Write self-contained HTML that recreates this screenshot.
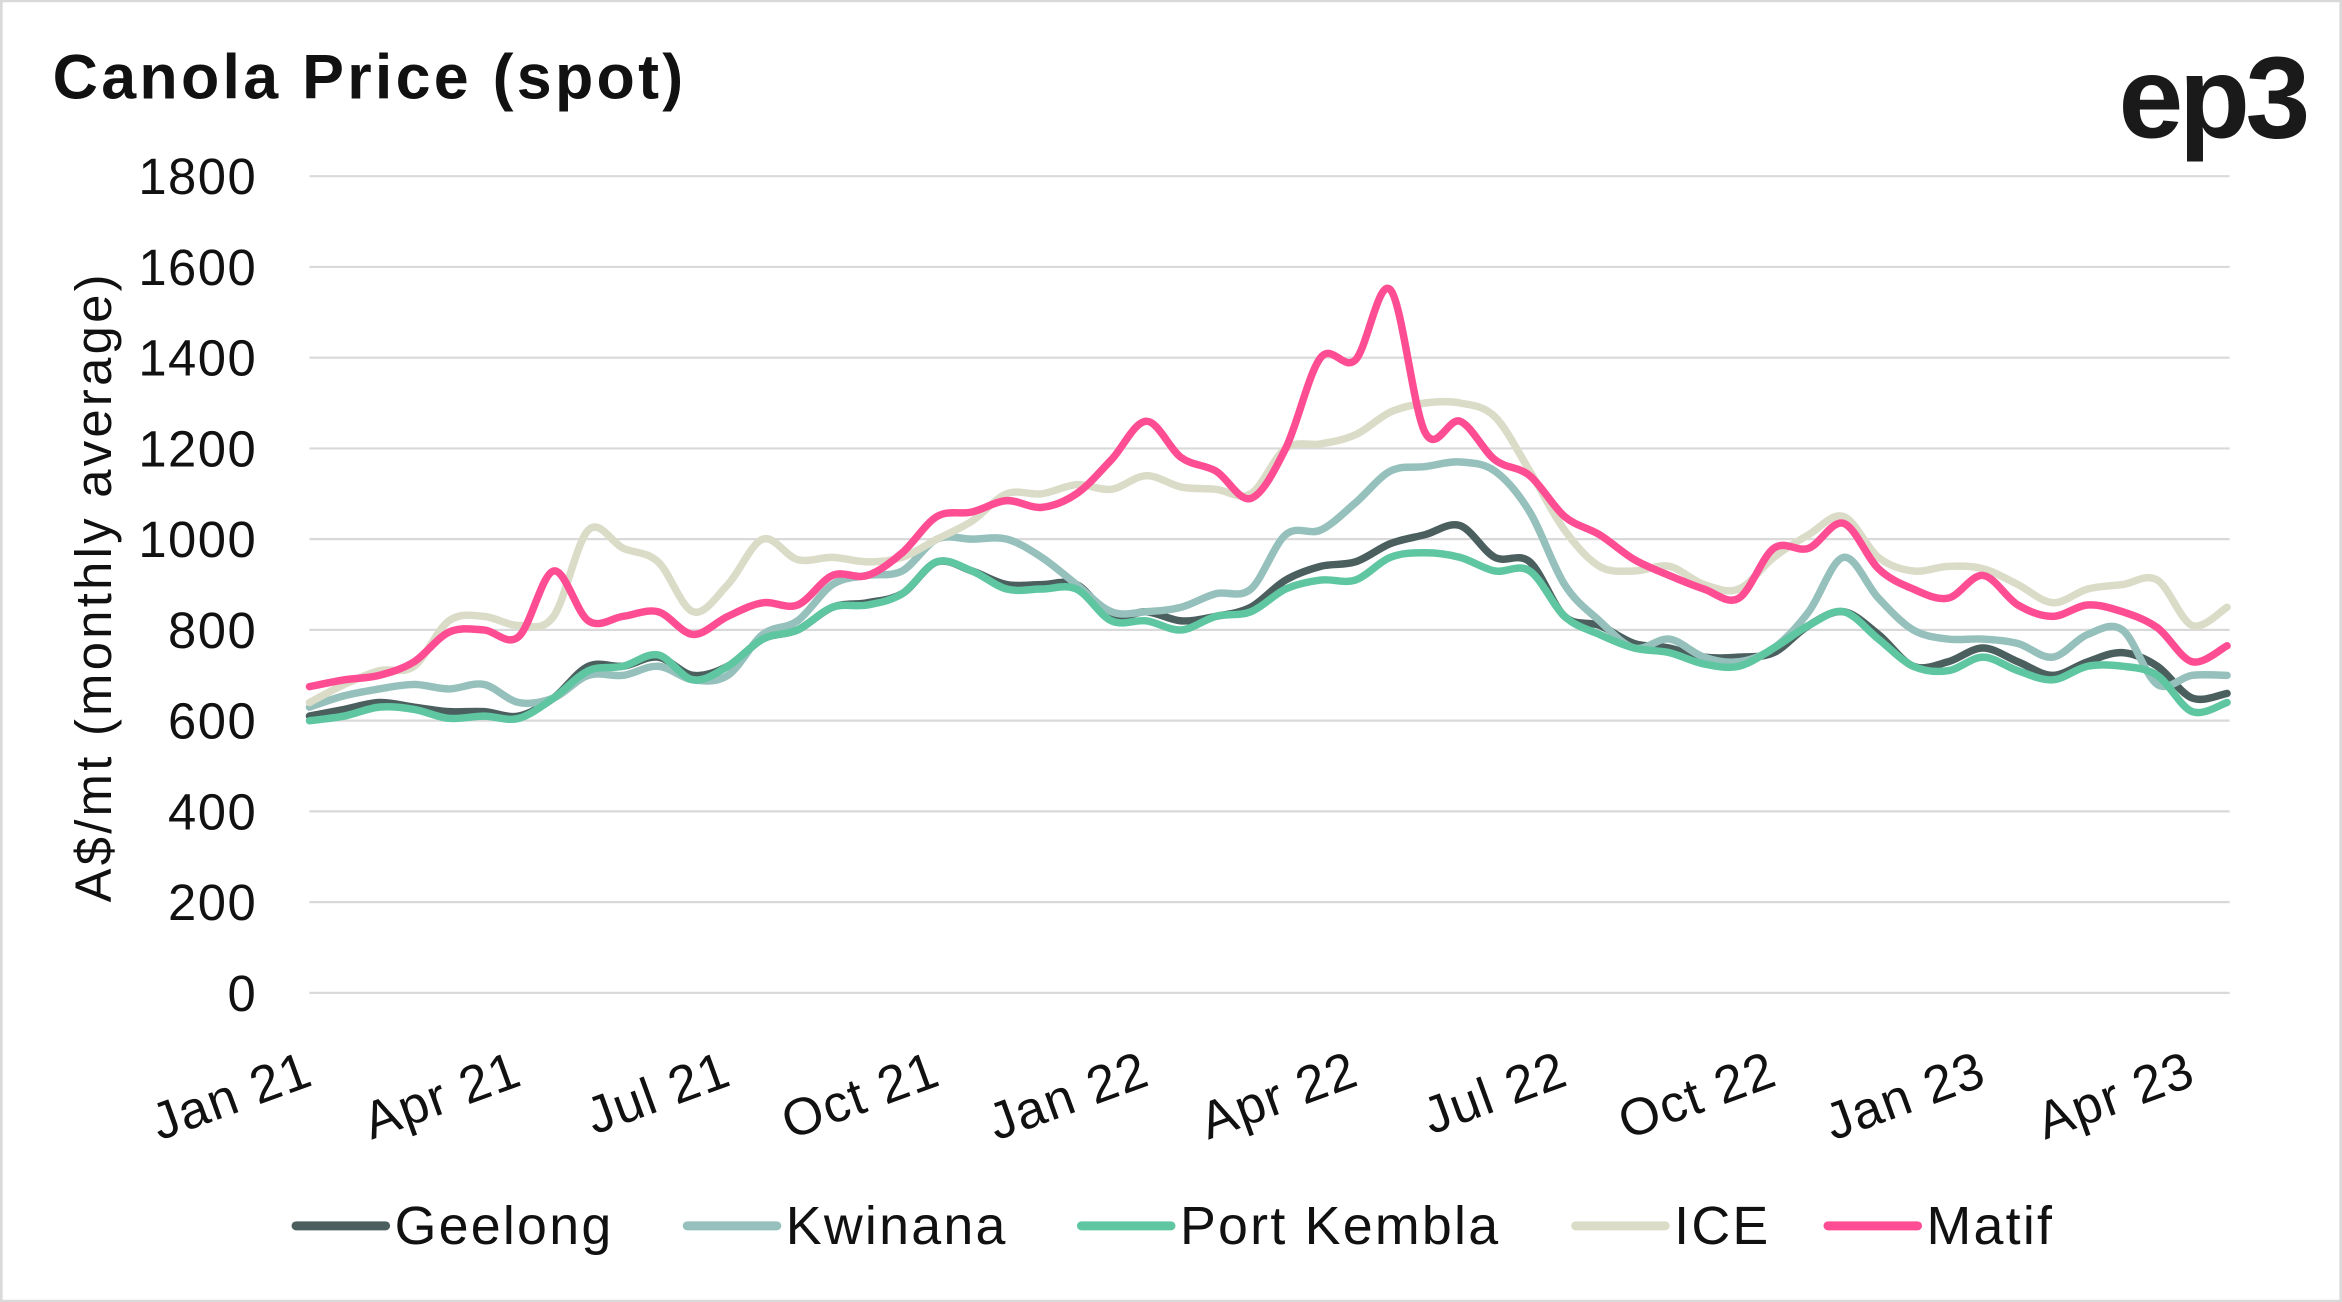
<!DOCTYPE html>
<html><head><meta charset="utf-8"><style>
html,body{margin:0;padding:0;background:#fff;}
svg{display:block;}
text{font-family:"Liberation Sans",sans-serif;}
</style></head><body>
<svg id="chart" width="2342" height="1302" viewBox="0 0 1568 872" xmlns="http://www.w3.org/2000/svg">
<rect x="0" y="0" width="1568" height="872" fill="#fff" stroke="#d9d9d9" stroke-width="3"/>
<text x="35" y="66" font-size="42" font-weight="bold" fill="#111" letter-spacing="2.2">Canola Price (spot)</text>
<text x="1544" y="92" font-size="78" font-weight="bold" fill="#1a1a1a" text-anchor="end" letter-spacing="-3">ep3</text>
<text transform="translate(74,393) rotate(-90)" font-size="34" fill="#111" text-anchor="middle" letter-spacing="2.2">A$/mt (monthly average)</text>
<g id="grid"></g>
<g id="yticks"></g>
<g id="xticks"></g>
<g id="series"></g>
<g id="legend"></g>
</svg>
<script>
const t = [];
for (let i = 0; i <= 55; i++) t.push(i * 0.5);
const geelong = [610,625,640,630,620,620,610,650,720,720,740,700,720,780,800,850,860,880,950,930,900,900,900,830,840,820,830,850,910,940,950,990,1010,1030,960,950,830,810,770,760,740,740,750,810,840,790,720,730,760,730,700,730,750,720,650,660];
const kwinana = [630,655,670,680,670,680,640,650,700,700,720,690,700,790,820,900,920,930,1000,1000,1000,960,900,840,840,850,880,890,1010,1020,1080,1150,1160,1170,1150,1060,900,820,760,780,740,730,760,840,960,870,800,780,780,770,740,790,800,680,700,700];
const portKembla = [600,610,630,625,605,610,605,650,710,720,745,690,720,780,800,850,855,880,950,930,890,890,890,820,820,800,830,840,890,910,910,960,970,960,930,930,830,790,760,750,725,720,760,810,840,780,720,710,740,710,690,720,720,700,620,640];
const ice = [640,680,710,720,820,830,810,830,1020,980,950,840,900,1000,955,960,950,960,1000,1040,1100,1100,1120,1110,1140,1115,1110,1100,1200,1210,1230,1280,1300,1300,1270,1150,1020,940,930,940,900,890,960,1010,1050,960,930,940,935,900,860,890,900,910,810,850];
const matif = [675,690,700,730,795,800,785,930,820,830,840,790,830,860,855,920,920,970,1050,1060,1085,1070,1100,1175,1260,1180,1150,1090,1200,1400,1395,1550,1235,1260,1175,1140,1050,1010,955,920,890,870,980,980,1035,935,890,870,920,855,830,855,840,805,730,765];
const yTicks = [0,200,400,600,800,1000,1200,1400,1600,1800];
const xLabels = ["Jan 21","Apr 21","Jul 21","Oct 21","Jan 22","Apr 22","Jul 22","Oct 22","Jan 23","Apr 23"];
const xLabelMonths = [0,3,6,9,12,15,18,21,24,27];
const seriesNames = ["Geelong","Kwinana","Port Kembla","ICE","Matif"];
const seriesColors = ["#4b5f5f","#95c0bc","#5ec6a1","#dadcc7","#ff4d94"];
const seriesData = [geelong,kwinana,portKembla,ice,matif];

const NS = "http://www.w3.org/2000/svg";
const X0 = 207, X1 = 1493, Y0 = 665, Y1 = 118;
const xs = m => X0 + m * 46.7;
const ys = v => Y0 - (v / 1800) * (Y0 - Y1);
function mk(tag, attrs, parent) {
  const e = document.createElementNS(NS, tag);
  for (const k in attrs) e.setAttribute(k, attrs[k]);
  parent.appendChild(e);
  return e;
}
const grid = document.getElementById('grid');
const yt = document.getElementById('yticks');
yTicks.forEach(v => {
  const l = mk('line', {x1: X0, x2: X1, y1: ys(v), y2: ys(v), stroke: '#d9d9d9', 'stroke-width': 1.5}, grid);
  
  
  const tx = mk('text', {x: 172, y: ys(v) + 12, 'font-size': 34, 'text-anchor': 'end', fill: '#111', 'letter-spacing': 1}, yt);
  tx.textContent = v;
  
  
});
const xt = document.getElementById('xticks');
xLabels.forEach((s, i) => {
  const x = xs(xLabelMonths[i]) + 4;
  const tx = mk('text', {transform: 'translate(' + x + ',726) rotate(-20)', 'font-size': 35, 'text-anchor': 'end', fill: '#111', 'letter-spacing': 1}, xt);
  tx.textContent = s;
  
  
});
function smoothPath(pts) {
  let d = 'M' + pts[0][0].toFixed(1) + ',' + pts[0][1].toFixed(1);
  for (let i = 0; i < pts.length - 1; i++) {
    const p0 = pts[Math.max(0, i - 1)], p1 = pts[i], p2 = pts[i + 1], p3 = pts[Math.min(pts.length - 1, i + 2)];
    const c1x = p1[0] + (p2[0] - p0[0]) / 6, c1y = p1[1] + (p2[1] - p0[1]) / 6;
    const c2x = p2[0] - (p3[0] - p1[0]) / 6, c2y = p2[1] - (p3[1] - p1[1]) / 6;
    d += ' C' + c1x.toFixed(1) + ',' + c1y.toFixed(1) + ' ' + c2x.toFixed(1) + ',' + c2y.toFixed(1) + ' ' + p2[0].toFixed(1) + ',' + p2[1].toFixed(1);
  }
  return d;
}
const sg = document.getElementById('series');
seriesData.forEach((arr, si) => {
  const pts = arr.map((v, i) => [xs(t[i]), ys(v)]);
  const p = mk('path', {d: smoothPath(pts), fill: 'none', stroke: seriesColors[si], 'stroke-width': 5, 'stroke-linejoin': 'round', 'stroke-linecap': 'round'}, sg);
  
  
});
const lg = document.getElementById('legend');
const legX = [198, 460, 724, 1055, 1224];
seriesNames.forEach((n, i) => {
  const g = mk('g', {}, lg);
  
  
  mk('line', {x1: legX[i], x2: legX[i] + 60, y1: 821, y2: 821, stroke: seriesColors[i], 'stroke-width': 6, 'stroke-linecap': 'round'}, g);
  const tx = mk('text', {x: legX[i] + 66, y: 833, 'font-size': 36, fill: '#111', 'letter-spacing': 1.5}, g);
  tx.textContent = n;
});
</script>
</body></html>
